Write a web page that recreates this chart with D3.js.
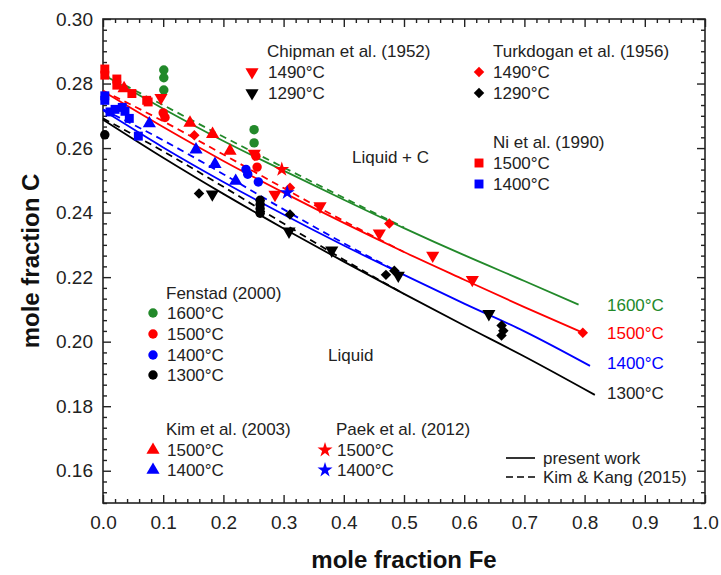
<!DOCTYPE html>
<html><head><meta charset="utf-8">
<script src="https://cdn.jsdelivr.net/npm/d3@7"></script>
<style>
body{margin:0;background:#fff}
svg{display:block}
text{font-family:"Liberation Sans",Arial,Helvetica,sans-serif}
</style>
</head><body>
<svg id="c" width="721" height="575"></svg>
<script>
// ---------- tick labels ----------
const xTickValues = [0.0,0.1,0.2,0.3,0.4,0.5,0.6,0.7,0.8,0.9,1.0];
const yTickValues = [0.16,0.18,0.20,0.22,0.24,0.26,0.28,0.30];

// ---------- present work (solid) ----------
const pw1600X = [0,0.1,0.2,0.3,0.4,0.5,0.6,0.7,0.79];
const pw1600Y = [0.2828,0.2722,0.2622,0.2530,0.2440,0.2352,0.2268,0.2188,0.2115];
const pw1500X = [0,0.1,0.2,0.3,0.4,0.5,0.6,0.7,0.797];
const pw1500Y = [0.2776,0.2665,0.2560,0.2462,0.2368,0.2278,0.2192,0.2107,0.2028];
const pw1400X = [0,0.1,0.2,0.3,0.4,0.5,0.6,0.7,0.809];
const pw1400Y = [0.2717,0.2602,0.2495,0.2394,0.2298,0.2207,0.2118,0.2032,0.1925];
const pw1300X = [0,0.1,0.2,0.3,0.4,0.5,0.6,0.7,0.817];
const pw1300Y = [0.2688,0.2570,0.2458,0.2351,0.2248,0.2148,0.2050,0.1954,0.1835];

// ---------- Kim & Kang (2015) (dashed) ----------
const kk1600X = [0,0.1,0.2,0.3,0.4,0.5];
const kk1600Y = [0.2830,0.2733,0.2635,0.2540,0.2446,0.2354];
const kk1500X = [0,0.1,0.2,0.3,0.4,0.5];
const kk1500Y = [0.2778,0.2683,0.2580,0.2476,0.2374,0.2278];
const kk1400X = [0,0.1,0.2,0.3,0.4,0.5];
const kk1400Y = [0.2720,0.2624,0.2519,0.2410,0.2305,0.2207];
const kk1300X = [0,0.1,0.2,0.3,0.4,0.5];
const kk1300Y = [0.2692,0.2590,0.2480,0.2366,0.2254,0.2148];

// ---------- experimental data ----------
const fenstad1600X = [0.101,0.101,0.101,0.251,0.251];
const fenstad1600Y = [0.2842,0.2818,0.2780,0.2657,0.2616];
const fenstad1500X = [0.100,0.103,0.254,0.256];
const fenstad1500Y = [0.2709,0.2695,0.2575,0.2541];
const fenstad1400X = [0.2375,0.2404,0.258];
const fenstad1400Y = [0.2534,0.2519,0.2495];
const fenstad1300X = [0.003,0.261,0.261,0.261,0.261];
const fenstad1300Y = [0.2641,0.2438,0.2425,0.2412,0.2398];

const ni1500X = [0.003,0.003,0.023,0.023,0.048,0.0726,0.075];
const ni1500Y = [0.2845,0.2826,0.2814,0.2795,0.2769,0.2748,0.2743];
const ni1400X = [0.003,0.003,0.0116,0.020,0.032,0.0365,0.0437,0.0587];
const ni1400Y = [0.2762,0.2748,0.2712,0.2720,0.2726,0.2714,0.2692,0.2637];

const kim1500X = [0.035,0.1445,0.182,0.211];
const kim1500Y = [0.2785,0.2678,0.2643,0.2591];
const kim1400X = [0.077,0.1545,0.186,0.2204];
const kim1400Y = [0.2676,0.2595,0.2550,0.2498];

const chipman1490X = [0.0963,0.2513,0.2857,0.3605,0.459,0.5477,0.6135];
const chipman1490Y = [0.2756,0.2583,0.2456,0.2420,0.2336,0.2267,0.2192];
const chipman1290X = [0.1816,0.309,0.380,0.4905,0.641];
const chipman1290Y = [0.2457,0.2342,0.2283,0.2205,0.2086];

const turk1490X = [0.1517,0.3106,0.4756,0.797];
const turk1490Y = [0.2640,0.2477,0.2366,0.2028];
const turk1290X = [0.1595,0.3106,0.470,0.4839,0.6622,0.665,0.662];
const turk1290Y = [0.2459,0.2394,0.2207,0.2220,0.2050,0.2034,0.2019];

const paek1500X = [0.297];
const paek1500Y = [0.2534];
const paek1400X = [0.306];
const paek1400Y = [0.2462];

// ---------- styles ----------
const GREEN="#22892a", RED="#ff0000", BLUE="#0000ff", BLACK="#000000";
const svg = d3.select("#c");
const x = d3.scaleLinear().domain([0,1]).range([103,705]);
const y = d3.scaleLinear().domain([0.15,0.30]).range([503,19]);
const zip = (a,b)=>a.map((v,i)=>[v,b[i]]);

// ---------- axes ----------
const axCol="#222";
const minorX = d3.range(0,51).map(i=>i*0.02).filter(v=>Math.abs(v*10-Math.round(v*10))>1e-6);
const minorY = d3.range(0,46).map(i=>0.15+i*0.02/6).filter(v=>v<=0.3001 && Math.abs(v*50-Math.round(v*50))>1e-6);

function styleAxis(g){g.selectAll("path,line").attr("stroke",axCol).attr("stroke-width",1.4);g.select(".domain").remove();}

svg.append("g").attr("transform","translate(0,503)")
  .call(d3.axisBottom(x).tickValues(xTickValues).tickSize(-8).tickSizeOuter(0).tickPadding(13).tickFormat(d3.format(".1f")))
  .call(styleAxis)
  .call(g=>g.selectAll("text").attr("font-size",19).attr("fill","#222").attr("font-family",'"Liberation Sans",Arial,sans-serif'));
svg.append("g").attr("transform","translate(0,503)")
  .call(d3.axisBottom(x).tickValues(minorX).tickSize(-4).tickSizeOuter(0).tickFormat(""))
  .call(styleAxis);
svg.append("g").attr("transform","translate(0,19)")
  .call(d3.axisTop(x).tickValues(xTickValues).tickSize(-8).tickSizeOuter(0).tickFormat(""))
  .call(styleAxis);
svg.append("g").attr("transform","translate(0,19)")
  .call(d3.axisTop(x).tickValues(minorX).tickSize(-4).tickSizeOuter(0).tickFormat(""))
  .call(styleAxis);
svg.append("g").attr("transform","translate(103,0)")
  .call(d3.axisLeft(y).tickValues(yTickValues).tickSize(-8).tickSizeOuter(0).tickPadding(10).tickFormat(d3.format(".2f")))
  .call(styleAxis)
  .call(g=>g.selectAll("text").attr("font-size",19).attr("fill","#222").attr("font-family",'"Liberation Sans",Arial,sans-serif'));
svg.append("g").attr("transform","translate(103,0)")
  .call(d3.axisLeft(y).tickValues(minorY).tickSize(-4).tickSizeOuter(0).tickFormat(""))
  .call(styleAxis);
svg.append("g").attr("transform","translate(705,0)")
  .call(d3.axisRight(y).tickValues(yTickValues).tickSize(-8).tickSizeOuter(0).tickFormat(""))
  .call(styleAxis);
svg.append("g").attr("transform","translate(705,0)")
  .call(d3.axisRight(y).tickValues(minorY).tickSize(-4).tickSizeOuter(0).tickFormat(""))
  .call(styleAxis);
svg.append("rect").attr("x",x(0)).attr("y",y(0.30)).attr("width",x(1)-x(0)).attr("height",y(0.15)-y(0.30))
  .attr("fill","none").attr("stroke",axCol).attr("stroke-width",1.6);

// axis titles
svg.append("text").attr("x",404).attr("y",568).attr("text-anchor","middle")
  .attr("font-size",24).attr("font-weight","bold").attr("fill","#111").text("mole fraction Fe");
svg.append("text").attr("transform","translate(39,261) rotate(-90)").attr("text-anchor","middle")
  .attr("font-size",24).attr("font-weight","bold").attr("fill","#111").text("mole fraction C");

// ---------- curves ----------
const line = d3.line().x(d=>x(d[0])).y(d=>y(d[1])).curve(d3.curveMonotoneX);
const curves = [
  [kk1600X,kk1600Y,GREEN,true],[kk1500X,kk1500Y,RED,true],[kk1400X,kk1400Y,BLUE,true],[kk1300X,kk1300Y,BLACK,true],
  [pw1600X,pw1600Y,GREEN,false],[pw1500X,pw1500Y,RED,false],[pw1400X,pw1400Y,BLUE,false],[pw1300X,pw1300Y,BLACK,false]
];
curves.forEach(([xs,ys,c,dash])=>{
  svg.append("path").attr("d",line(zip(xs,ys))).attr("fill","none").attr("stroke",c)
    .attr("stroke-width",1.8).attr("stroke-dasharray",dash?"7,5":null);
});

// ---------- markers ----------
function sym(type,size,rot){
  return {path:d3.symbol().type(type).size(size)(), rot:rot||0};
}
const S = {
  circle: sym(d3.symbolCircle,70),
  square: sym(d3.symbolSquare,80),
  up: sym(d3.symbolTriangle,75),
  down: sym(d3.symbolTriangle,75,180),
  diamond: sym(d3.symbolSquare,55,45),
  star: sym(d3.symbolStar,70)
};
function marks(xs,ys,shape,color){
  svg.append("g").selectAll("path").data(zip(xs,ys)).join("path")
    .attr("d",S[shape].path)
    .attr("transform",d=>`translate(${x(d[0])},${y(d[1])}) rotate(${S[shape].rot})`)
    .attr("fill",color);
}
marks(ni1500X,ni1500Y,"square",RED);
marks(ni1400X,ni1400Y,"square",BLUE);
marks(kim1500X,kim1500Y,"up",RED);
marks(kim1400X,kim1400Y,"up",BLUE);
marks(fenstad1600X,fenstad1600Y,"circle",GREEN);
marks(fenstad1500X,fenstad1500Y,"circle",RED);
marks(fenstad1400X,fenstad1400Y,"circle",BLUE);
marks(fenstad1300X,fenstad1300Y,"circle",BLACK);
marks(chipman1490X,chipman1490Y,"down",RED);
marks(chipman1290X,chipman1290Y,"down",BLACK);
marks(turk1490X,turk1490Y,"diamond",RED);
marks(turk1290X,turk1290Y,"diamond",BLACK);
marks(paek1500X,paek1500Y,"star",RED);
marks(paek1400X,paek1400Y,"star",BLUE);

// ---------- legends ----------
const FS=17;
function legendTitle(tx,ty,t){
  svg.append("text").attr("x",tx).attr("y",ty).attr("dy","0.35em").attr("font-size",FS).attr("fill","#222").text(t);
}
function legendItem(mx,tx,ty,shape,color,t){
  svg.append("path").attr("d",S[shape].path).attr("transform",`translate(${mx},${ty}) rotate(${S[shape].rot})`).attr("fill",color);
  svg.append("text").attr("x",tx).attr("y",ty).attr("dy","0.35em").attr("font-size",FS).attr("fill","#222").text(t);
}
legendTitle(267,51,"Chipman et al. (1952)");
legendItem(252,268,72,"down",RED,"1490°C");
legendItem(252,268,93,"down",BLACK,"1290°C");

legendTitle(493,51,"Turkdogan et al. (1956)");
legendItem(479,493,72,"diamond",RED,"1490°C");
legendItem(479,493,93,"diamond",BLACK,"1290°C");

legendTitle(493,142,"Ni et al. (1990)");
legendItem(479,493,163,"square",RED,"1500°C");
legendItem(479,493,184,"square",BLUE,"1400°C");

legendTitle(166,293,"Fenstad (2000)");
legendItem(153,167,313,"circle",GREEN,"1600°C");
legendItem(153,167,334,"circle",RED,"1500°C");
legendItem(153,167,355,"circle",BLUE,"1400°C");
legendItem(153,167,375,"circle",BLACK,"1300°C");

legendTitle(166,429,"Kim et al. (2003)");
legendItem(153,167,450,"up",RED,"1500°C");
legendItem(153,167,470,"up",BLUE,"1400°C");

legendTitle(336,429,"Paek et al. (2012)");
legendItem(325,337,450,"star",RED,"1500°C");
legendItem(325,337,470,"star",BLUE,"1400°C");

svg.append("line").attr("x1",506).attr("x2",535).attr("y1",458).attr("y2",458).attr("stroke","#000").attr("stroke-width",1.6);
svg.append("text").attr("x",543).attr("y",458).attr("dy","0.35em").attr("font-size",FS).attr("fill","#222").text("present work");
svg.append("line").attr("x1",506).attr("x2",535).attr("y1",477).attr("y2",477).attr("stroke","#000").attr("stroke-width",1.6).attr("stroke-dasharray","7,4");
svg.append("text").attr("x",543).attr("y",477).attr("dy","0.35em").attr("font-size",FS).attr("fill","#222").text("Kim & Kang (2015)");

// region labels
svg.append("text").attr("x",352).attr("y",157).attr("dy","0.35em").attr("font-size",FS).attr("fill","#222").text("Liquid + C");
svg.append("text").attr("x",328).attr("y",355).attr("dy","0.35em").attr("font-size",FS).attr("fill","#222").text("Liquid");

// curve end labels
const endLabels = [["1600°C",GREEN,305],["1500°C",RED,333],["1400°C",BLUE,363],["1300°C","#222",393]];
endLabels.forEach(([t,c,yy])=>{
  svg.append("text").attr("x",607).attr("y",yy).attr("dy","0.35em").attr("font-size",FS).attr("fill",c).text(t);
});
</script>
</body></html>
